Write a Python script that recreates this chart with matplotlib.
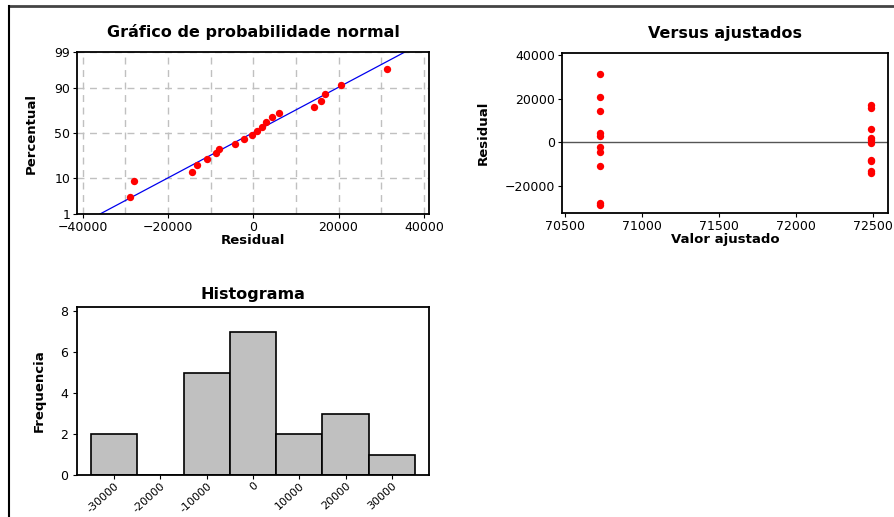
import numpy as np
import matplotlib
matplotlib.use("Agg")
import matplotlib.pyplot as plt
from matplotlib.lines import Line2D
from matplotlib.ticker import MultipleLocator
from statistics import NormalDist

# Data
fit_low = 70725
fit_high = 72490
res_low = [31250, 20550, 14300, 4450, 2900, -2190, -4375, -10900, -27900, -28900]
res_high = [16880, 15860, 5940, 2100, 1000, -310, -8050, -8750, -13100, -14300]
percentiles = [3.4, 8.3, 13.2, 18.1, 23.0, 27.9, 32.8, 37.7, 42.6, 47.5,
               52.5, 57.4, 62.3, 67.2, 72.1, 77.0, 81.9, 86.8, 91.7, 96.6]
prob_ticks = [1, 10, 50, 90, 99]
hist_edges = [-35000, -25000, -15000, -5000, 5000, 15000, 25000, 35000]
hist_ticks = [-30000, -20000, -10000, 0, 10000, 20000, 30000]

residuals = np.sort(np.array(res_low + res_high, dtype=float))
nd = NormalDist()
z = lambda p: nd.inv_cdf(p / 100.0)
zq = np.array([z(p) for p in percentiles])

plt.rcParams['font.family'] = ['DejaVu Sans']
plt.rcParams['font.size'] = 9
plt.rcParams['axes.linewidth'] = 1.3
plt.rcParams['xtick.major.size'] = 3
plt.rcParams['ytick.major.size'] = 3

W, H = 895, 517
fig = plt.figure(figsize=(W / 100, H / 100), dpi=100)

def box(x0, y0, x1, y1):
    return [x0 / W, 1 - y1 / H, (x1 - x0) / W, (y1 - y0) / H]

title_kw = dict(fontsize=11.5, fontweight="bold", pad=11)
lab_kw = dict(fontsize=9.5, fontweight="bold")

# Normal probability plot
ax1 = fig.add_axes(box(77, 52, 429, 214))
mu, sd = residuals.mean(), residuals.std(ddof=1)
zl = np.array([z(1), z(99)])
ax1.plot(mu + sd * zl, zl, color="#0000ee", lw=0.9)
ax1.scatter(residuals, zq, s=28, color="red", zorder=3, linewidths=0)
ax1.set_xlim(-41300, 41200)
ax1.set_ylim(z(1), z(99))
ax1.set_yticks([z(p) for p in prob_ticks])
ax1.set_yticklabels([str(p) for p in prob_ticks])
ax1.xaxis.set_major_locator(MultipleLocator(20000))
ax1.xaxis.set_minor_locator(MultipleLocator(10000))
ax1.tick_params(axis="x", which="minor", length=0)
ax1.tick_params(pad=2)
ax1.grid(True, which="both", axis="x", color="#c0c0c0", ls=(0, (5, 4)), lw=1)
ax1.grid(True, which="major", axis="y", color="#c0c0c0", ls=(0, (5, 4)), lw=1)
ax1.set_axisbelow(True)
ax1.set_title("Gráfico de probabilidade normal", **title_kw)
ax1.set_xlabel("Residual", labelpad=0, **lab_kw)
ax1.set_ylabel("Percentual", labelpad=12, **lab_kw)

# Versus fits
ax2 = fig.add_axes(box(562, 53, 888, 213))
ax2.axhline(0, color="#555555", lw=1)
ax2.scatter([fit_low] * len(res_low), res_low, s=28, color="red", zorder=3, linewidths=0)
ax2.scatter([fit_high] * len(res_high), res_high, s=28, color="red", zorder=3, linewidths=0)
ax2.set_xlim(70480, 72600)
ax2.set_ylim(-32400, 40900)
ax2.set_xticks([70500, 71000, 71500, 72000, 72500])
ax2.set_yticks([-20000, 0, 20000, 40000])
ax2.tick_params(pad=2)
ax2.set_title("Versus ajustados", **title_kw)
ax2.set_xlabel("Valor ajustado", labelpad=0, **lab_kw)
ax2.set_ylabel("Residual", labelpad=11, **lab_kw)

# Histogram
ax3 = fig.add_axes(box(77, 307, 429, 475))
ax3.hist(residuals, bins=hist_edges, color="#c0c0c0", edgecolor="black", lw=1.2)
ax3.set_xlim(-38000, 38000)
ax3.set_ylim(0, 8.2)
ax3.set_xticks(hist_ticks)
ax3.set_xticklabels([str(t) for t in hist_ticks], rotation=42, ha="right",
                    rotation_mode="anchor", fontsize=8)
ax3.tick_params(axis="x", pad=1)
ax3.set_yticks([0, 2, 4, 6, 8])
ax3.set_title("Histograma", fontsize=11.5, fontweight="bold", pad=6)
ax3.set_ylabel("Frequencia", labelpad=10, **lab_kw)

# outer frame lines
fig.add_artist(Line2D([9.5 / W, 1], [1 - 6 / H, 1 - 6 / H], color="#444444", lw=2))
fig.add_artist(Line2D([9.5 / W, 9.5 / W], [0, 1 - 6 / H], color="black", lw=1.5))

fig.savefig("out.png", dpi=100)
